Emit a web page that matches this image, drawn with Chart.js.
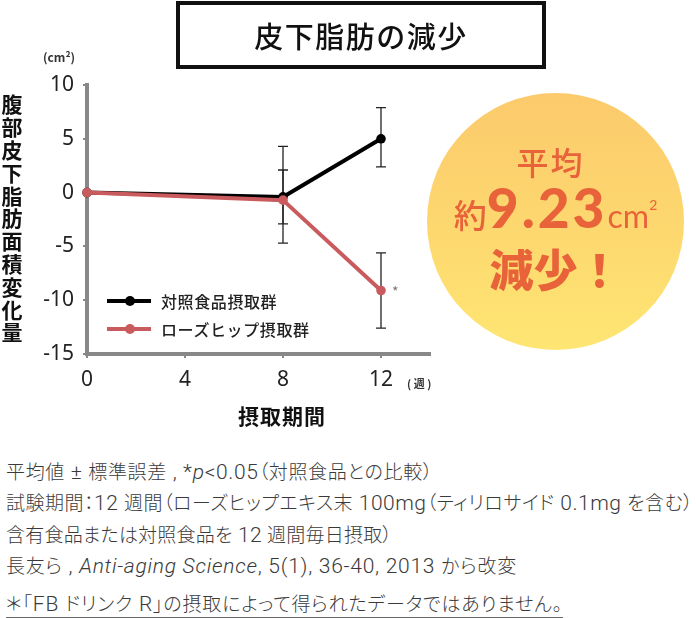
<!DOCTYPE html>
<html lang="ja">
<head>
<meta charset="utf-8">
<title>皮下脂肪の減少</title>
<script src="https://cdn.jsdelivr.net/npm/chart.js@4.4.1/dist/chart.umd.min.js"></script>
<style>
  html, body { margin: 0; padding: 0; background: #fff; }
  body {
    position: relative; width: 696px; height: 618px; overflow: hidden;
    font-family: "Noto Sans CJK JP", "Noto Sans", sans-serif; color: #222;
  }
  .abs { position: absolute; white-space: nowrap; }
  #chart { position: absolute; left: 0; top: 0; }

  #titleBox {
    left: 176px; top: 1px; width: 370px; height: 68px; box-sizing: border-box;
    border: 4px solid #111; display: flex; align-items: center; justify-content: center;
    font-size: 29px; font-weight: 500; color: #111; letter-spacing: 1.5px;
  }
  #yTitle {
    left: 1px; top: 94px; writing-mode: vertical-rl; font-size: 21px; font-weight: 700;
    line-height: 1; letter-spacing: 1.8px; color: #111;
  }
  #unit { left: 43px; top: 48px; font-size: 12px; font-weight: 700; color: #333; }
  #weekUnit { left: 407px; top: 375px; font-size: 11px; font-weight: 700; color: #333; }
  #xTitle { left: 238px; top: 400px; font-size: 21px; font-weight: 700; color: #111; letter-spacing: 1px; }
  #star { left: 392px; top: 281px; font-size: 14px; color: #777; }

  .legRow { left: 107px; height: 20px; }
  .legLine { position: absolute; left: 0; top: 8px; width: 44px; height: 4px; }
  .legDot { position: absolute; left: 18px; top: 5px; width: 10px; height: 10px; border-radius: 50%; }
  .legText { position: absolute; left: 54px; top: -2px; font-size: 16px; font-weight: 500; letter-spacing: 0.6px; color: #222; }

  #badge {
    left: 427px; top: 93px; width: 257px; height: 257px; border-radius: 50%;
    background: linear-gradient(to bottom, #fbca6c 0%, #fdd86f 55%, #fee673 100%);
    color: #e8633a;
  }
  #badge .ln { position: absolute; left: 0; width: 100%; text-align: center; white-space: nowrap; }
  #b1 { top: 52px; font-size: 32px; line-height: 32px; font-weight: 500; letter-spacing: 2px; margin-left: -5px; }
  #b2 { top: 84px; line-height: 60px; }
  #b2 .yaku { font-size: 33px; font-weight: 500; }
  #b2 .num { font-family: Lato, "Noto Sans", sans-serif; font-size: 55px; font-weight: 900; letter-spacing: 3px; }
  #b2 .cm { font-family: Lato, "Noto Sans", sans-serif; font-size: 32px; font-weight: 400; }
  #b2 .sq { font-family: Lato, "Noto Sans", sans-serif; font-size: 14px; position: relative; top: -18px; }
  #b3 { top: 152px; font-size: 44px; line-height: 46px; font-weight: 900; }

  .note {
    font-family: "Noto Sans CJK JP", sans-serif; font-size: 19px; font-weight: 300;
    color: #3a3a3a; line-height: 26px; left: 6px; font-feature-settings: "palt";
  }
  .note .l { font-family: Roboto, "Noto Sans", sans-serif; font-size: 21px; font-weight: 300; }
  #lastNote { border-bottom: 1px solid #666; }
</style>
</head>
<body>

<canvas id="chart" width="440" height="430" style="width:440px;height:430px"></canvas>

<div id="titleBox" class="abs">皮下脂肪の減少</div>
<div id="yTitle" class="abs">腹部皮下脂肪面積変化量</div>
<div id="unit" class="abs">(cm²)</div>
<div id="weekUnit" class="abs">( 週 )</div>
<div id="xTitle" class="abs">摂取期間</div>
<div id="star" class="abs">*</div>

<div class="abs legRow" style="top:291px">
  <span class="legLine" style="background:#000"></span>
  <span class="legDot" style="background:#000"></span>
  <span class="legText">対照食品摂取群</span>
</div>
<div class="abs legRow" style="top:319px">
  <span class="legLine" style="background:#c95b5e"></span>
  <span class="legDot" style="background:#c95b5e"></span>
  <span class="legText">ローズヒップ摂取群</span>
</div>

<div id="badge" class="abs">
  <div id="b1" class="ln">平均</div>
  <div id="b2" class="ln"><span class="yaku">約</span><span class="num">9.23</span><span class="cm">cm</span><span class="sq">2</span></div>
  <div id="b3" class="ln">減少！</div>
</div>

<div class="abs note" data-w="427" style="top:458px">平均値<span class="l"> ± </span>標準誤差<span class="l"> , *<i>p</i>&lt;0.05</span>（対照食品との比較）</div>
<div class="abs note" data-w="687" style="top:489px">試験期間：<span class="l">12 </span>週間（ローズヒップエキス末<span class="l"> 100mg</span>（ティリロサイド<span class="l"> 0.1mg </span>を含む）</div>
<div class="abs note" data-w="386" style="top:521px">含有食品または対照食品を<span class="l"> 12 </span>週間毎日摂取）</div>
<div class="abs note" data-w="511" style="top:552px">長友ら<span class="l"> , <i>Anti-aging Science</i>, 5(1), 36-40, 2013 </span>から改変</div>
<div id="lastNote" class="abs note" data-w="557" style="top:590px">＊「<span class="l">FB </span>ドリンク<span class="l"> R</span>」の摂取によって得られたデータではありません。</div>

<script>
// --- data ---
const weeks = [0, 8, 12];
const controlValues = [0, -0.4, 5.0];
const roseValues = [0, -0.7, -9.1];
// error bar ends (upper / lower)
const controlUpper = [null, 2.1, 7.9];
const controlLower = [null, -2.9, 2.4];
const roseUpper = [null, 4.3, -5.6];
const roseLower = [null, -4.7, -12.6];
const xTicks = [0, 4, 8, 12];
const yTicks = [-15, -10, -5, 0, 5, 10];

const CONTROL_COLOR = '#000000';
const ROSE_COLOR = '#c95b5e';
const AXIS_COLOR = '#888888';

// error bars, drawn under the lines
const errorBars = {
    id: 'errorBars',
    beforeDatasetsDraw(chart) {
        const ctx = chart.ctx;
        const xs = chart.scales.x, ys = chart.scales.y;
        const sets = [[controlUpper, controlLower], [roseUpper, roseLower]];
        ctx.save();
        ctx.strokeStyle = '#222';
        ctx.lineWidth = 1.3;
        sets.forEach(([up, lo]) => {
            weeks.forEach((w, i) => {
                if (up[i] == null) return;
                const px = xs.getPixelForValue(w);
                const y1 = ys.getPixelForValue(up[i]);
                const y2 = ys.getPixelForValue(lo[i]);
                ctx.beginPath();
                ctx.moveTo(px, y1); ctx.lineTo(px, y2);
                ctx.moveTo(px - 5, y1); ctx.lineTo(px + 5, y1);
                ctx.moveTo(px - 5, y2); ctx.lineTo(px + 5, y2);
                ctx.stroke();
            });
        });
        ctx.restore();
    }
};

const tickFont = { family: '"Noto Sans", sans-serif', size: 21 };

new Chart(document.getElementById('chart').getContext('2d'), {
    type: 'line',
    data: {
        datasets: [
            {
                label: '対照食品摂取群',
                data: weeks.map((w, i) => ({ x: w, y: controlValues[i] })),
                borderColor: CONTROL_COLOR,
                backgroundColor: CONTROL_COLOR,
                pointBackgroundColor: CONTROL_COLOR,
                borderWidth: 4,
                pointRadius: 4.8,
                pointBorderWidth: 0,
                tension: 0,
                clip: false,
                order: 2
            },
            {
                label: 'ローズヒップ摂取群',
                data: weeks.map((w, i) => ({ x: w, y: roseValues[i] })),
                borderColor: ROSE_COLOR,
                backgroundColor: ROSE_COLOR,
                pointBackgroundColor: ROSE_COLOR,
                borderWidth: 4,
                pointRadius: 4.8,
                pointBorderWidth: 0,
                tension: 0,
                clip: false,
                order: 1
            }
        ]
    },
    options: {
        responsive: false,
        animation: false,
        events: [],
        layout: { padding: { left: 0, top: 85, right: 10, bottom: 0 } },
        plugins: { legend: { display: false }, tooltip: { enabled: false } },
        scales: {
            x: {
                type: 'linear',
                min: 0,
                max: 14,
                afterBuildTicks: s => { s.ticks = xTicks.map(v => ({ value: v })); },
                ticks: { color: '#222', font: tickFont, padding: 9, maxRotation: 0, autoSkip: false },
                grid: { drawOnChartArea: false, drawTicks: true, tickLength: 4, color: AXIS_COLOR, lineWidth: 2 },
                border: { color: AXIS_COLOR, width: 4 },
                afterFit: s => { s.height = 76; s.paddingLeft = 0; s.paddingRight = 0; }
            },
            y: {
                min: -15,
                max: 10,
                afterBuildTicks: s => { s.ticks = yTicks.map(v => ({ value: v })); },
                ticks: { color: '#222', font: tickFont, padding: 9, autoSkip: false },
                grid: { drawOnChartArea: false, drawTicks: true, tickLength: 4, color: AXIS_COLOR, lineWidth: 2 },
                border: { color: AXIS_COLOR, width: 4 },
                afterFit: s => { s.width = 87; s.paddingTop = 0; s.paddingBottom = 0; }
            }
        }
    },
    plugins: [errorBars]
});

// stretch each footnote line to the width it has in the picture
function fitNotes() {
    document.querySelectorAll('.note').forEach(el => {
        el.style.letterSpacing = '0px';
        const w = el.getBoundingClientRect().width;
        const n = el.textContent.length;
        el.style.letterSpacing = ((+el.dataset.w - w) / n).toFixed(2) + 'px';
    });
}
fitNotes();
if (document.fonts) document.fonts.ready.then(fitNotes);
</script>
</body>
</html>
